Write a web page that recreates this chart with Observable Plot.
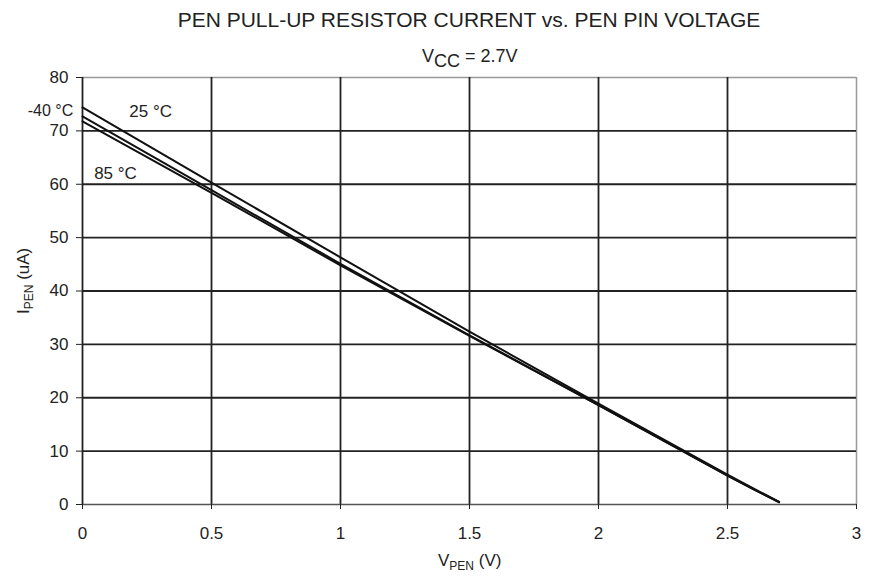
<!DOCTYPE html>
<html>
<head>
<meta charset="utf-8">
<script src="https://cdn.jsdelivr.net/npm/d3@7"></script>
<script src="https://cdn.jsdelivr.net/npm/@observablehq/plot@0.6"></script>
<style>
  html, body { margin: 0; padding: 0; background: #fff; }
  #chart { width: 869px; height: 581px; }
</style>
</head>
<body>
<div id="chart"></div>
<script>
const vPen = [0, 0.5, 1.0, 1.5, 2.0, 2.5, 2.6, 2.7];
const i25 = [74.4, 60.3, 46.3, 32.4, 18.9, 5.6, 3.0, 0.5];
const iM40 = [72.7, 58.9, 45.1, 31.7, 18.6, 5.4, 2.9, 0.5];
const i85 = [71.8, 58.4, 44.8, 31.6, 18.6, 5.4, 2.9, 0.4];
const series = ["25 °C", "-40 °C", "85 °C"];
const xTicks = [0, 0.5, 1, 1.5, 2, 2.5, 3];
const yTicks = [0, 10, 20, 30, 40, 50, 60, 70, 80];

const rows = [];
[i25, iM40, i85].forEach((arr, k) => arr.forEach((v, j) => rows.push({s: series[k], x: vPen[j], y: v})));

const FONT = "Liberation Sans, Arial, sans-serif";
const plot = Plot.plot({
  width: 869, height: 581,
  marginLeft: 82, marginRight: 13, marginTop: 77, marginBottom: 77,
  style: {fontFamily: FONT, fontSize: "17px", color: "#222", background: "white"},
  x: {domain: [0, 3]},
  y: {domain: [0, 80]},
  marks: [
    Plot.ruleY([80], {stroke: "#999", strokeWidth: 1.5}),
    Plot.ruleX([3], {stroke: "#999", strokeWidth: 1.5}),
    Plot.ruleX(xTicks.slice(1, -1), {stroke: "#222", strokeWidth: 1.8}),
    Plot.ruleY(yTicks.slice(1, -1), {stroke: "#222", strokeWidth: 1.8}),
    Plot.ruleY([0], {stroke: "#555", strokeWidth: 1.6}),
    Plot.ruleX([0], {stroke: "#222", strokeWidth: 1.8}),
    Plot.axisX({ticks: xTicks, tickSize: 5, tickPadding: 17, label: null, tickFormat: d => String(d), fontSize: 17}),
    Plot.axisY({ticks: yTicks, tickSize: 6, tickPadding: 8, label: null, fontSize: 17}),
    Plot.line(rows, {x: "x", y: "y", z: "s", stroke: "#111", strokeWidth: 2}),
    Plot.text([series[0]], {x: 0.264, y: 73.6, text: d => d, fontSize: 17, fill: "#222"}),
    Plot.text([series[1]], {x: -0.124, y: 73.8, text: d => d, fontSize: 16, fill: "#222"}),
    Plot.text([series[2]], {x: 0.128, y: 62.0, text: d => d, fontSize: 17, fill: "#222"})
  ]
});
document.getElementById("chart").appendChild(plot);

const svg = d3.select(plot);
svg.append("text").attr("x", 469).attr("y", 27).attr("text-anchor", "middle")
  .attr("font-size", 21).attr("fill", "#222").text("PEN PULL-UP RESISTOR CURRENT vs. PEN PIN VOLTAGE");

const st = svg.append("text").attr("x", 422).attr("y", 62).attr("text-anchor", "start")
  .attr("font-size", 18).attr("fill", "#222");
st.append("tspan").text("V");
st.append("tspan").attr("dy", 5).text("CC");
st.append("tspan").attr("dy", -5).text(" = 2.7V");

const xl = svg.append("text").attr("x", 438).attr("y", 566).attr("text-anchor", "start")
  .attr("font-size", 17).attr("fill", "#222");
xl.append("tspan").text("V");
xl.append("tspan").attr("font-size", 12).attr("dy", 4).text("PEN");
xl.append("tspan").attr("dy", -4).text(" (V)");

const yl = svg.append("text").attr("transform", "translate(29,314) rotate(-90)").attr("text-anchor", "start")
  .attr("font-size", 17).attr("fill", "#222");
yl.append("tspan").text("I");
yl.append("tspan").attr("font-size", 12).attr("dy", 4).text("PEN");
yl.append("tspan").attr("dy", -4).text(" (uA)");
</script>
</body>
</html>
